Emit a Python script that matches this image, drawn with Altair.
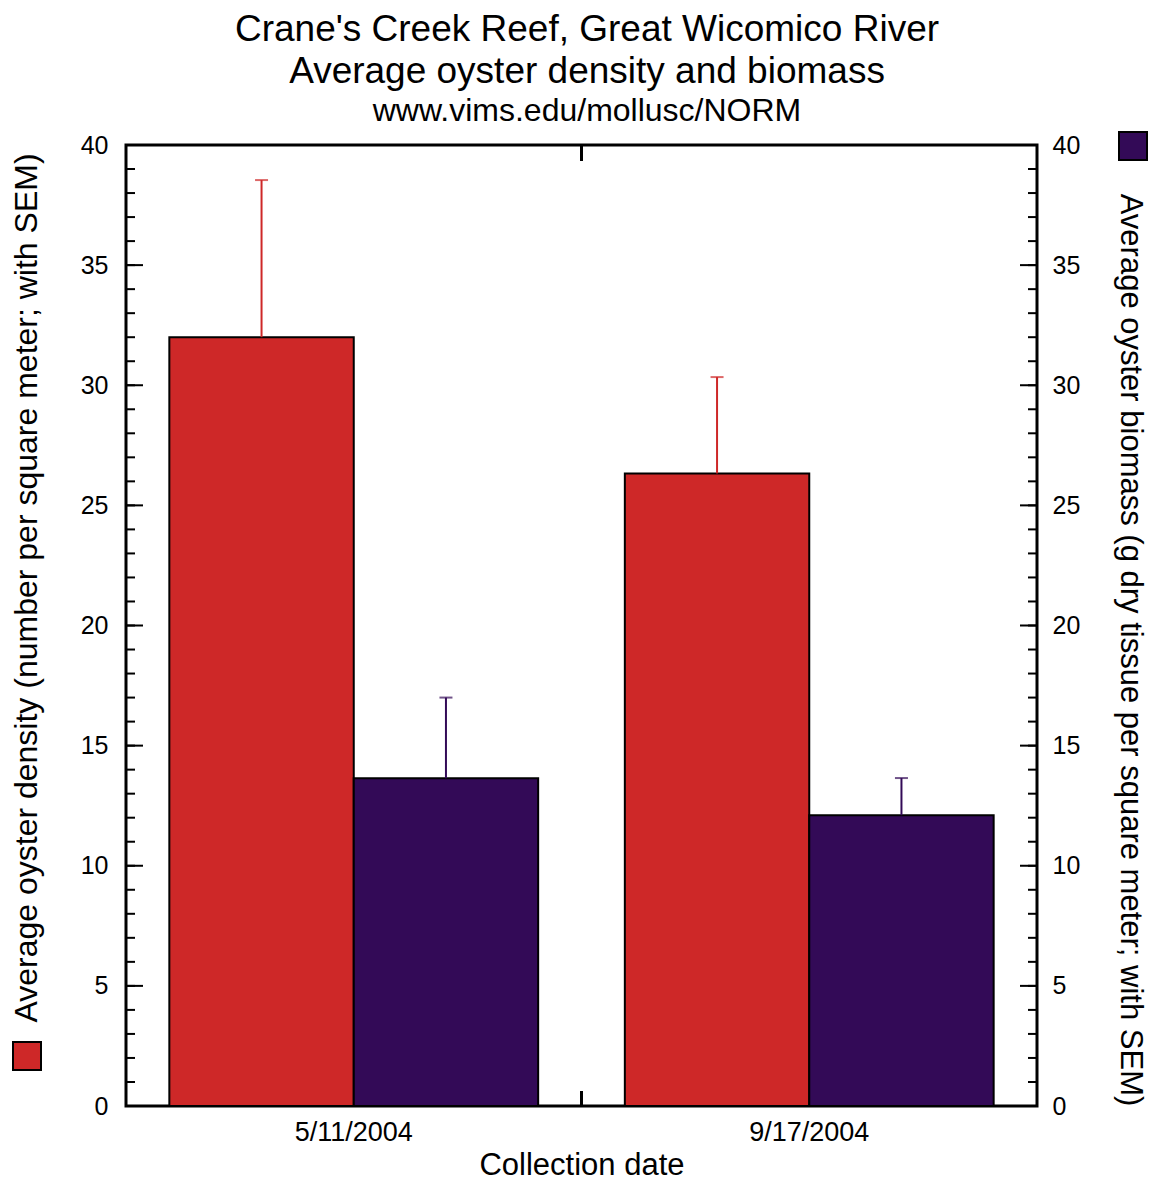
import altair as alt
import pandas as pd

# ---- data ----
dates = ["5/11/2004", "9/17/2004"]
density = [32.0, 26.33]
density_sem = [6.54, 4.01]
biomass = [13.64, 12.10]
biomass_sem = [3.36, 1.55]
series_names = ["Density", "Biomass"]
minor_ticks = list(range(0, 41))
major_ticks = [0, 5, 10, 15, 20, 25, 30, 35, 40]

title1 = "Crane's Creek Reef, Great Wicomico River"
title2 = "Average oyster density and biomass"
title3 = "www.vims.edu/mollusc/NORM"
left_title = "Average oyster density (number per square meter; with SEM)"
right_title = "Average oyster biomass (g dry tissue per square meter; with SEM)"

RED = "#CE2828"
PURPLE = "#330A57"
FONT = "Liberation Sans"
W, H = 911, 961

rows = []
for i, d in enumerate(dates):
    rows.append({"date": d, "series": series_names[0], "value": density[i],
                 "top": density[i] + density_sem[i]})
    rows.append({"date": d, "series": series_names[1], "value": biomass[i],
                 "top": biomass[i] + biomass_sem[i]})
df = pd.DataFrame(rows)

yscale = alt.Scale(domain=[0, 40], nice=False, zero=True)
xscale = alt.Scale(paddingInner=0, paddingOuter=0)
offscale = alt.Scale(domain=series_names, paddingInner=0, paddingOuter=0.235)
color = alt.Color("series:N", scale=alt.Scale(domain=series_names, range=[RED, PURPLE]), legend=None)

x_axis = alt.Axis(labelFontSize=27, labelPadding=13, ticks=False, domain=False,
                  labelAngle=0, title="Collection date", titleFontSize=31,
                  titlePadding=5, titleFontWeight="normal", labelFont=FONT, titleFont=FONT)
X = alt.X("date:N", scale=xscale, axis=x_axis, sort=dates)
XO = alt.XOffset("series:N", scale=offscale, sort=series_names)

bars = alt.Chart(df).mark_bar(stroke="black", strokeWidth=2).encode(
    x=X, xOffset=XO,
    y=alt.Y("value:Q", scale=yscale,
            axis=alt.Axis(values=major_ticks, ticks=False, domain=False, grid=False,
                          labelFontSize=25, labelPadding=18, title=None, labelFont=FONT,
                          orient="left")),
    color=color,
)

err = alt.Chart(df).mark_rule(strokeWidth=2).encode(
    x=X, xOffset=XO,
    y=alt.Y("value:Q", scale=yscale, axis=None),
    y2="top:Q",
    color=color,
)

caps = alt.Chart(df).mark_tick(size=13, thickness=2).encode(
    x=X, xOffset=XO,
    y=alt.Y("top:Q", scale=yscale, axis=None),
    color=color,
)

minor_df = pd.DataFrame({"v": minor_ticks})
major_df = pd.DataFrame({"v": major_ticks})

right_axis_layer = alt.Chart(major_df).mark_rule(color="black", strokeWidth=2).encode(
    y=alt.Y("v:Q", scale=yscale,
            axis=alt.Axis(values=major_ticks, ticks=False, domain=False, grid=False,
                          labelFontSize=25, labelPadding=15, title=None, labelFont=FONT,
                          orient="right")),
    x=alt.value(W - 17), x2=alt.value(W),
)
left_major = alt.Chart(major_df).mark_rule(color="black", strokeWidth=2).encode(
    y=alt.Y("v:Q", scale=yscale, axis=None), x=alt.value(0), x2=alt.value(17))
left_minor = alt.Chart(minor_df).mark_rule(color="black", strokeWidth=2).encode(
    y=alt.Y("v:Q", scale=yscale, axis=None), x=alt.value(0), x2=alt.value(9))
right_minor = alt.Chart(minor_df).mark_rule(color="black", strokeWidth=2).encode(
    y=alt.Y("v:Q", scale=yscale, axis=None), x=alt.value(W - 9), x2=alt.value(W))

one = pd.DataFrame({"k": [0]})
mid_ticks = alt.Chart(one).mark_rule(color="black", strokeWidth=3).encode(
    x=alt.value(W / 2), y=alt.value(0), y2=alt.value(16))
mid_ticks_b = alt.Chart(one).mark_rule(color="black", strokeWidth=3).encode(
    x=alt.value(W / 2), y=alt.value(H - 15), y2=alt.value(H))


def text_layer(txt, x, y, size, angle=0):
    return alt.Chart(pd.DataFrame({"t": [txt]})).mark_text(
        fontSize=size, font=FONT, angle=angle, align="center", baseline="middle",
        color="black").encode(text="t:N", x=alt.value(x), y=alt.value(y))


t1 = text_layer(title1, 461, -115, 37)
t2 = text_layer(title2, 461, -73, 37)
t3 = text_layer(title3, 461, -34, 32)
lt = text_layer(left_title, -99, 443, 32, angle=270)
rt = text_layer(right_title, 1004, 505, 31, angle=90)

sq_red = alt.Chart(one).mark_square(size=784, fill=RED, stroke="black", strokeWidth=2, opacity=1).encode(
    x=alt.value(-99), y=alt.value(911))
sq_purple = alt.Chart(one).mark_square(size=784, fill=PURPLE, stroke="black", strokeWidth=2, opacity=1).encode(
    x=alt.value(1007), y=alt.value(1))

chart = alt.layer(
    bars, right_axis_layer, err, caps, left_major, left_minor, right_minor,
    mid_ticks, mid_ticks_b, t1, t2, t3, lt, rt, sq_red, sq_purple
).resolve_scale(y="shared").resolve_axis(y="independent").properties(
    width=W, height=H,
    autosize=alt.AutoSizeParams(type="none"),
    padding={"left": 118, "top": 137, "right": 112, "bottom": 76},
).configure_view(stroke="black", strokeWidth=3).configure_axis(
    labelColor="black", titleColor="black")

chart.save("out.html", embed_options={"renderer": "svg", "actions": False})
